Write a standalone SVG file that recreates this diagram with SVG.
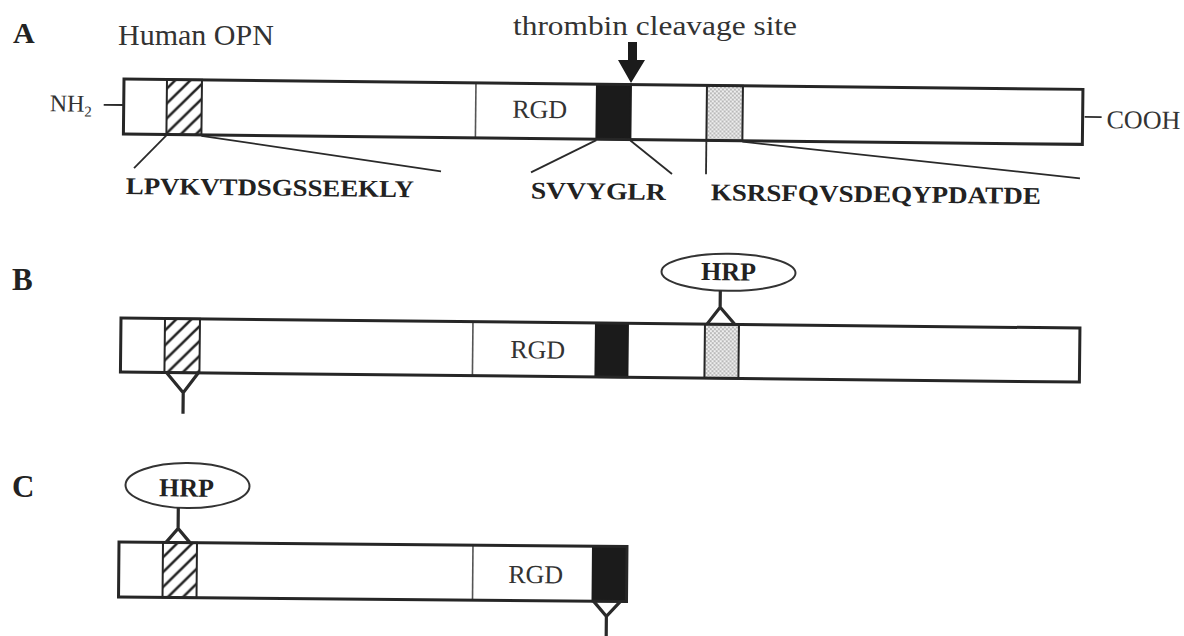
<svg xmlns="http://www.w3.org/2000/svg" width="1184" height="636" viewBox="0 0 1184 636">
<defs>
<pattern id="hatch" patternUnits="userSpaceOnUse" width="15" height="15">
<rect width="15" height="15" fill="#fff"/>
<path d="M-3.75,3.75 l7.5,-7.5 M0,15 l15,-15 M11.25,18.75 l7.5,-7.5" stroke="#222" stroke-width="2.6"/>
</pattern>
<pattern id="dots" patternUnits="userSpaceOnUse" width="4" height="4">
<rect width="4" height="4" fill="#efefef"/>
<circle cx="1" cy="1" r="0.9" fill="#a0a0a0"/>
<circle cx="3" cy="3" r="0.9" fill="#a0a0a0"/>
</pattern>
<style>
.bar{fill:none;stroke:#262626;stroke-width:3}
.bg{fill:#fff}
.seg{stroke:#262626;stroke-width:2}
.blk{fill:#1b1b1b;stroke:#1b1b1b;stroke-width:2}
.div{stroke:#555;stroke-width:1.6}
.lab{font-family:"Liberation Serif","Times New Roman",serif;fill:#333}
.bold{font-family:"Liberation Serif","Times New Roman",serif;font-weight:bold;fill:#222}
.con{stroke:#2a2a2a;stroke-width:1.8;fill:none}
.lnk{stroke:#2a2a2a;stroke-width:3.2;fill:none;stroke-linejoin:miter}
.ell{fill:#fff;stroke:#333;stroke-width:2}
</style>
</defs>
<rect width="1184" height="636" fill="#fff"/>

<g id="labels">
<text class="bold" x="13" y="43" font-size="30">A</text>
<text class="bold" x="12" y="290" font-size="31">B</text>
<text class="bold" x="12" y="497" font-size="31">C</text>
<text class="lab" x="118" y="45" font-size="30">Human OPN</text>
<text class="lab" x="513" y="35" font-size="27" textLength="284" lengthAdjust="spacingAndGlyphs">thrombin cleavage site</text>
</g>

<g id="panelA" transform="rotate(0.62 124 79)">
<g id="A-bar">
<rect class="bg" x="124" y="79" width="959" height="55"/>
<rect class="seg" x="167" y="79" width="35" height="55" fill="url(#hatch)"/>
<line class="div" x1="476" y1="79" x2="476" y2="134"/>
<text class="lab" x="540" y="113.5" font-size="26" text-anchor="middle">RGD</text>
<rect class="blk" x="597" y="79" width="34" height="55"/>
<rect class="seg" x="707" y="79" width="36" height="55" fill="url(#dots)"/>
<rect class="bar" x="124" y="79" width="959" height="55"/>
</g>
<g id="A-nh2">
<text class="lab" x="50" y="112" font-size="24">NH<tspan font-size="15" dy="5">2</tspan></text>
</g>
<g id="A-cooh">
<text class="lab" x="1107" y="117.5" font-size="26">COOH</text>
</g>
<g id="A-seq1"><text class="bold" x="127" y="194" font-size="24" textLength="288" lengthAdjust="spacingAndGlyphs">LPVKVTDSGSSEEKLY</text></g>
<g id="A-seq2"><text class="bold" x="532" y="194" font-size="24" textLength="135" lengthAdjust="spacingAndGlyphs">SVVYGLR</text></g>
<g id="A-seq3"><text class="bold" x="712" y="194" font-size="24" textLength="330" lengthAdjust="spacingAndGlyphs">KSRSFQVSDEQYPDATDE</text></g>
</g>

<g id="panelB" transform="rotate(0.6 121 318)">
<g id="B-bar">
<rect class="bg" x="121" y="318" width="959" height="54"/>
<rect class="seg" x="165" y="318" width="35" height="54" fill="url(#hatch)"/>
<line class="div" x1="473" y1="318" x2="473" y2="372"/>
<text class="lab" x="538" y="354" font-size="26" text-anchor="middle">RGD</text>
<rect class="blk" x="596" y="318" width="32" height="54"/>
<rect class="seg" x="705" y="318" width="34" height="54" fill="url(#dots)"/>
<rect class="bar" x="121" y="318" width="959" height="54"/>
</g>
<g id="B-hrp">
<ellipse class="ell" cx="728" cy="266" rx="67" ry="18.5"/>
<text class="bold" x="728" y="274" font-size="26" text-anchor="middle">HRP</text>
</g>
</g>

<g id="panelC" transform="rotate(0.5 119 542)">
<g id="C-bar">
<rect class="bg" x="119" y="542" width="508" height="55"/>
<rect class="seg" x="163" y="542" width="34" height="55" fill="url(#hatch)"/>
<line class="div" x1="473" y1="542" x2="473" y2="597"/>
<text class="lab" x="536" y="579.5" font-size="26" text-anchor="middle">RGD</text>
<rect class="blk" x="593" y="542" width="34" height="55"/>
<rect class="bar" x="119" y="542" width="508" height="55"/>
</g>
<g id="C-hrp">
<ellipse class="ell" cx="187" cy="485" rx="62" ry="22.5"/>
<text class="bold" x="186" y="496" font-size="26" text-anchor="middle">HRP</text>
</g>
</g>

<g id="connectors">
<g transform="rotate(0.62 124 79)">
<line class="con" x1="104" y1="105" x2="124" y2="105"/>
<line class="con" x1="1085" y1="106.5" x2="1102" y2="106.5"/>
<line class="con" x1="167" y1="135" x2="135" y2="168"/>
<line class="con" x1="202" y1="135" x2="442" y2="168"/>
<line class="con" x1="597" y1="135" x2="532" y2="168"/>
<line class="con" x1="631" y1="135" x2="673" y2="168"/>
<line class="con" x1="707" y1="135" x2="707" y2="168"/>
<line class="con" x1="743" y1="135" x2="1081" y2="168"/>
</g>
<g transform="rotate(0.6 121 318)">
<path class="lnk" d="M720,284.5 V301 M707,318 L720,301 L735,318"/>
<path class="lnk" d="M167,372 L184,392 L199,372 M184,392 V413"/>
</g>
<g transform="rotate(0.5 119 542)">
<path class="lnk" d="M178,507.5 V528 M166,542 L178,528 L190,542"/>
<path class="lnk" d="M594,597 L607,612 L621,597 M607,612 V636"/>
</g>
<path id="thrombin-arrow" d="M628,42 H637 V60 H645 L631,83 L618,60 H628 Z" fill="#1b1b1b"/>
</g>
</svg>
